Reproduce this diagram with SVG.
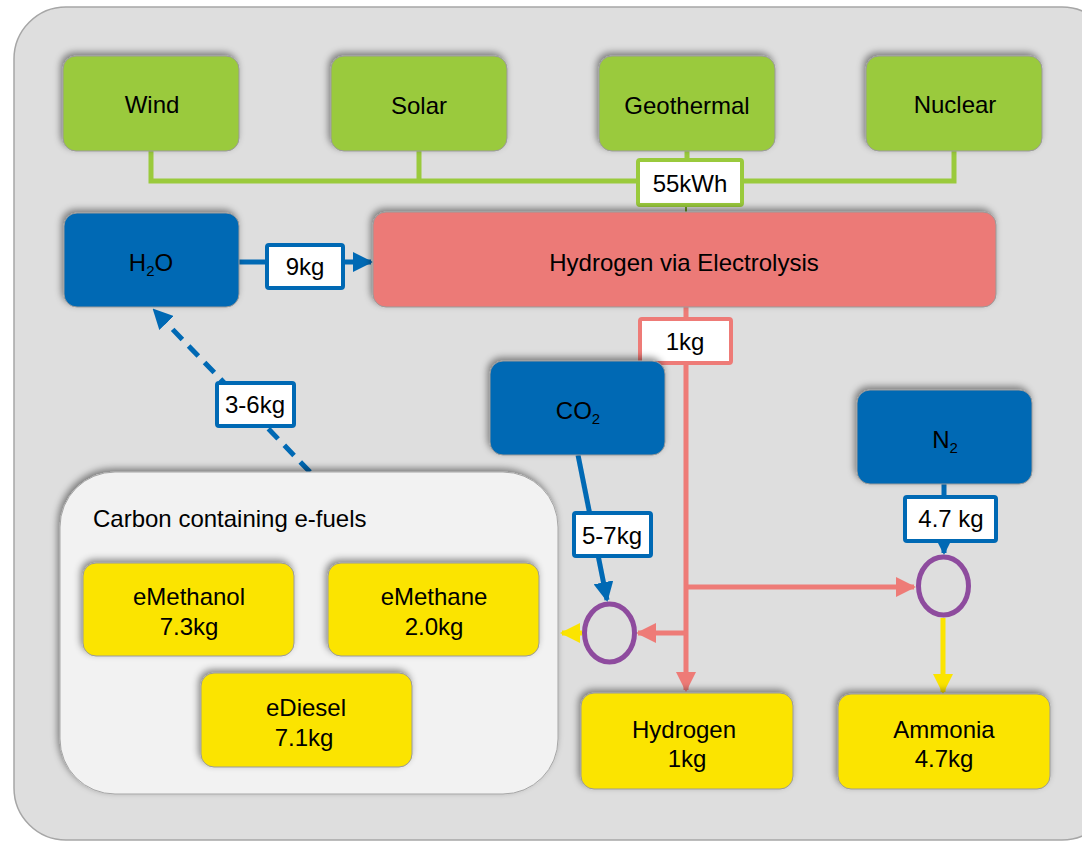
<svg xmlns="http://www.w3.org/2000/svg" width="1082" height="841" viewBox="0 0 1082 841">
<defs>
<filter id="sh" x="-20%" y="-20%" width="140%" height="140%">
<feDropShadow dx="-2" dy="-3" stdDeviation="3.5" flood-color="#000" flood-opacity="0.45"/>
</filter>
<marker id="ab" viewBox="0 0 10 10" refX="9" refY="5" markerWidth="4" markerHeight="4" orient="auto" markerUnits="strokeWidth"><path d="M0,0 L10,5 L0,10 z" fill="#0069B4"/></marker>
<marker id="ar" viewBox="0 0 10 10" refX="9" refY="5" markerWidth="4" markerHeight="4" orient="auto" markerUnits="strokeWidth"><path d="M0,0 L10,5 L0,10 z" fill="#EE7B77"/></marker>
<marker id="ay" viewBox="0 0 10 10" refX="9" refY="5" markerWidth="4" markerHeight="4" orient="auto" markerUnits="strokeWidth"><path d="M0,0 L10,5 L0,10 z" fill="#FBE400"/></marker>
</defs>
<style>
text{font-family:"Liberation Sans",Arial,sans-serif;font-size:24px;fill:#000;text-anchor:middle}
.sub{font-size:15px}
.g{fill:#9ACA3C;stroke:#9a9a9a;stroke-width:1}
.b{fill:#0069B4;stroke:#9a9a9a;stroke-width:1}
.y{fill:#FBE400;stroke:#9a9a9a;stroke-width:1}
.r{fill:#EC7A77;stroke:#9a9a9a;stroke-width:1}
.lbl{fill:#fff;stroke-width:4}
.circ{fill:none;stroke:#8E4B9E;stroke-width:5}
</style>
<rect x="14" y="7" width="1100" height="833" rx="52" fill="#DEDEDE" stroke="#A6A6A6" stroke-width="1.5"/>

<g id="connectors">
<path d="M151,151 V181 H954 V151 M419,151 V181 M687,151 V181" fill="none" stroke="#9ACA3C" stroke-width="5"/>
<line x1="686" y1="206" x2="686" y2="213" stroke="#6E9A2A" stroke-width="2"/>
<line x1="239" y1="262" x2="371" y2="262" stroke="#0069B4" stroke-width="5" marker-end="url(#ab)"/>
<line x1="686" y1="307" x2="686" y2="690" stroke="#EE7B77" stroke-width="5" marker-end="url(#ar)"/>
<line x1="686" y1="587" x2="914" y2="587" stroke="#EE7B77" stroke-width="5" marker-end="url(#ar)"/>
<line x1="688" y1="633" x2="638" y2="633" stroke="#EE7B77" stroke-width="5" marker-end="url(#ar)"/>
<line x1="578" y1="455" x2="607" y2="600" stroke="#0069B4" stroke-width="5" marker-end="url(#ab)"/>
<line x1="944" y1="484" x2="944" y2="553" stroke="#0069B4" stroke-width="5" marker-end="url(#ab)"/>
<line x1="943" y1="618" x2="943" y2="692" stroke="#FBE400" stroke-width="5" marker-end="url(#ay)"/>
<line x1="582" y1="633" x2="562" y2="633" stroke="#FBE400" stroke-width="5" marker-end="url(#ay)"/>
<line x1="310" y1="472" x2="154" y2="310" stroke="#0069B4" stroke-width="5" stroke-dasharray="14,9" marker-end="url(#ab)"/>
<ellipse cx="609.5" cy="633" rx="25" ry="29" class="circ"/>
<ellipse cx="943.5" cy="586" rx="25" ry="29" class="circ"/>
<g id="lbl55"><rect x="638" y="160" width="104" height="45" rx="2" class="lbl" stroke="#9ACA3C"/><text x="690" y="192">55kWh</text></g>
<g id="lbl9"><rect x="267" y="245" width="76" height="43" rx="2" class="lbl" stroke="#0069B4"/><text x="305" y="275">9kg</text></g>
<g id="lbl1"><rect x="640" y="319" width="91" height="44" rx="2" class="lbl" stroke="#EE7B77"/><text x="685" y="350">1kg</text></g>
<g id="lbl36"><rect x="217" y="383" width="77" height="43" rx="2" class="lbl" stroke="#0069B4"/><text x="255" y="413">3-6kg</text></g>
<g id="lbl57"><rect x="574" y="513" width="77" height="43" rx="2" class="lbl" stroke="#0069B4"/><text x="612" y="544">5-7kg</text></g>
<g id="lbl47"><rect x="905" y="497" width="91" height="44" rx="2" class="lbl" stroke="#0069B4"/><text x="951" y="527">4.7 kg</text></g>
</g>

<g id="wind"><rect x="63" y="56" width="176" height="95" rx="13" class="g" filter="url(#sh)"/><text x="152" y="113">Wind</text></g>
<g id="solar"><rect x="331" y="56" width="176" height="95" rx="13" class="g" filter="url(#sh)"/><text x="419" y="114">Solar</text></g>
<g id="geothermal"><rect x="599" y="56" width="176" height="95" rx="13" class="g" filter="url(#sh)"/><text x="687" y="114">Geothermal</text></g>
<g id="nuclear"><rect x="866" y="56" width="176" height="95" rx="13" class="g" filter="url(#sh)"/><text x="955" y="113">Nuclear</text></g>

<g id="h2o"><rect x="64" y="213" width="175" height="94" rx="13" class="b" filter="url(#sh)"/><text x="151" y="271">H<tspan class="sub" dy="5">2</tspan><tspan dy="-5">O</tspan></text></g>
<g id="electrolysis"><rect x="373" y="212" width="623" height="95" rx="13" class="r" filter="url(#sh)"/><text x="684" y="271">Hydrogen via Electrolysis</text></g>
<g id="co2"><rect x="490" y="361" width="175" height="94" rx="13" class="b" filter="url(#sh)"/><text x="578" y="419">CO<tspan class="sub" dy="5">2</tspan></text></g>
<g id="n2"><rect x="857" y="390" width="175" height="94" rx="13" class="b" filter="url(#sh)"/><text x="945" y="448">N<tspan class="sub" dy="5">2</tspan></text></g>

<g id="carbon"><rect x="60" y="472" width="498" height="322" rx="55" fill="#F2F2F2" stroke="#A6A6A6" stroke-width="1" filter="url(#sh)"/><text x="93" y="527" style="text-anchor:start">Carbon containing e-fuels</text></g>
<g id="emethanol"><rect x="83" y="563" width="211" height="93" rx="13" class="y" filter="url(#sh)"/><text x="189" y="605">eMethanol</text><text x="189" y="635">7.3kg</text></g>
<g id="emethane"><rect x="328" y="563" width="211" height="93" rx="13" class="y" filter="url(#sh)"/><text x="434" y="605">eMethane</text><text x="434" y="635">2.0kg</text></g>
<g id="ediesel"><rect x="201" y="673" width="211" height="94" rx="13" class="y" filter="url(#sh)"/><text x="306" y="716">eDiesel</text><text x="304" y="746">7.1kg</text></g>

<g id="hydrogen"><rect x="581" y="693" width="212" height="96" rx="13" class="y" filter="url(#sh)"/><text x="684" y="738">Hydrogen</text><text x="687" y="767">1kg</text></g>
<g id="ammonia"><rect x="838" y="694" width="212" height="95" rx="13" class="y" filter="url(#sh)"/><text x="944" y="738">Ammonia</text><text x="944" y="767">4.7kg</text></g>
</svg>
